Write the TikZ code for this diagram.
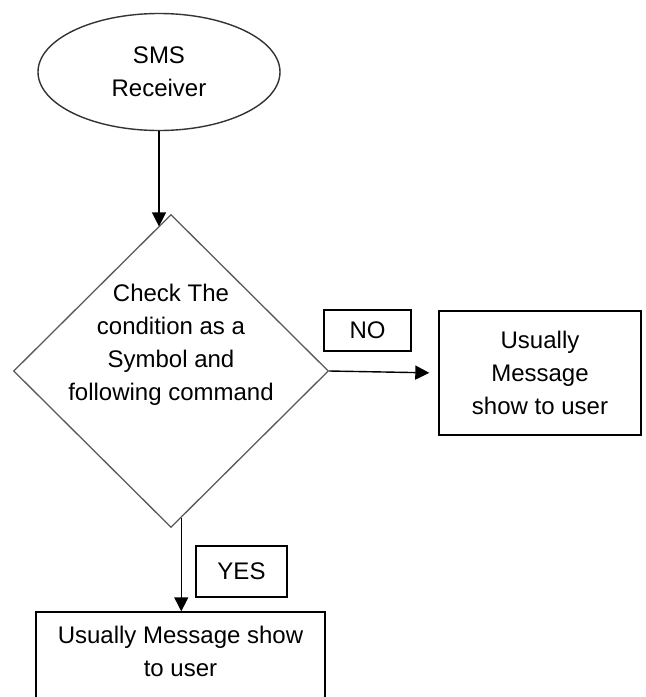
\documentclass[tikz,border=0pt]{standalone}
\usepackage{fontspec}
\setmainfont{Liberation Sans}
\usetikzlibrary{shapes.geometric, arrows.meta, positioning}

\begin{document}
\begin{tikzpicture}[
  x=1pt, y=-1pt,
  every node/.style={font=\fontsize{24}{33}\selectfont, align=center},
  startstop/.style={ellipse, draw=black!80, line width=1.4pt, inner sep=0pt,
    minimum width=242pt, minimum height=117pt},
  decision/.style={diamond, draw=black!65, line width=1.3pt, inner sep=0pt,
    minimum width=315pt, minimum height=313pt},
  msgbox/.style={rectangle, draw=black, line width=1.4pt, inner sep=0pt},
  tagbox/.style={rectangle, draw=black, line width=1.3pt, inner sep=0pt},
  arr/.style={-{Triangle[length=14pt,width=14pt]}, line width=1.4pt}
]
  \useasboundingbox (0,0) rectangle (646,697);

  % Start
  \node[startstop] (recv) at (159,72) {SMS\\Receiver};

  % Decision
  \node[decision, label={[yshift=26pt]center:{Check The\\condition as a\\Symbol and\\following command}}]
    (check) at (171,371) {};

  % NO branch
  \node[msgbox, minimum width=202pt, minimum height=124pt] (usual1) at (540,373)
    {Usually\\Message\\show to user};
  \node[tagbox, minimum width=87pt, minimum height=41pt] (no) at (367.5,330.5) {NO};

  % YES branch
  \node[msgbox, minimum width=289pt, minimum height=110pt,
    label={[yshift=15.5pt]center:{Usually Message show\\to user}}] (usual2) at (180.5,667) {};
  \node[tagbox, minimum width=91pt, minimum height=51pt] (yes) at (241.5,571.5) {YES};

  % Connectors
  \draw[arr] (recv.south) -- (recv.south |- check.95);
  \draw[arr, shorten >=9pt] (check.east) -- (usual1.west);
  \draw[arr] (check.274) -- (check.274 |- usual2.north);

\end{tikzpicture}
\end{document}
